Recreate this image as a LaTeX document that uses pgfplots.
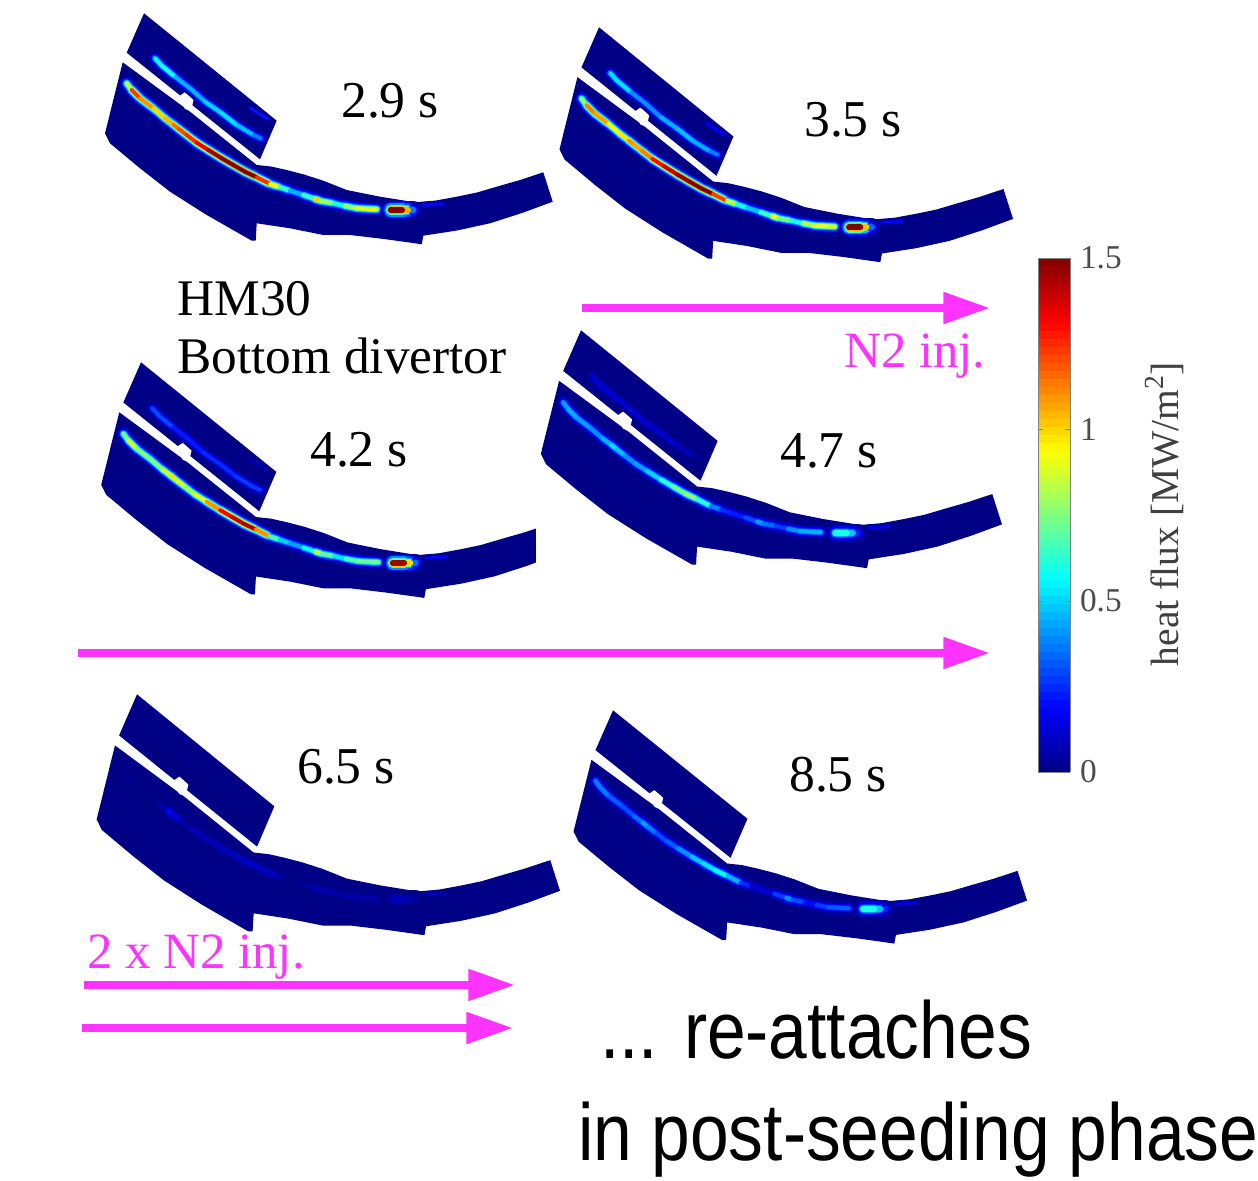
\documentclass[border=0pt]{standalone}
\usepackage{fontspec}
\setmainfont{Liberation Serif}
\newfontfamily\narrow[FakeStretch=0.86]{Liberation Sans}
\usepackage{pgfplots}
\usepackage{pgfplotstable}
\pgfplotsset{compat=1.18}
\usetikzlibrary{arrows.meta}
\definecolor{mg}{RGB}{255,51,255}
\definecolor{bodyblue}{rgb}{0,0,0.53}
\pgfplotstableread{
x y
0 0.3
132.7 107.7
116 146.3
-17.3 39.7
}\blocktab
\pgfplotstableread{
x y
-21.3 49.3
46 98.7
112.7 152
127 153.5
142.7 157
160 161.5
179.3 167.7
202.7 177
235 183.5
271 189.3
292 187.5
312.7 183.7
333 179.5
352.7 173.7
376 167
399.3 159.3
408.7 188.7
378 200
346 210.3
313 217.5
279.3 222.7
277.7 231.3
271 230.3
240 226
206 222
179.3 222
146 215.3
112.7 210.3
111.7 227.7
107.7 227.7
62.7 202
26 178.7
-4 155.3
-34 130.3
-39 120.3
}\bodytab
\pgfplotstableread{
x y
34 84
42 78.5
50 85
47 98
41 96
}\notchtab
\pgfplotstableread{
x y a b c d e f
-17.3 70.3 .45 .50 .50 .40 .02 .35
-12.3 77 1.25 1.05 .95 .45 .02 .40
-4 85.3 1.2 1.2 .80 .45 .02 .35
9.3 95.3 1.0 .95 .70 .40 .01 .30
21 105.3 1.0 .90 .80 .40 .01 .30
29.5 111.7 1.1 1.05 .95 .50 .10 .40
34.5 115.7 1.2 1.15 1.0 .55 .25 .45
42.7 122 1.2 1.0 .80 .40 .02 .30
52.7 129.7 1.3 1.25 .85 .40 .08 .30
64.3 137 1.4 1.35 .95 .45 .08 .35
77.7 145.3 1.5 1.45 1.25 .55 .08 .45
89.3 152 1.5 1.5 1.40 .70 .09 .50
101 158.7 1.5 1.5 1.40 .75 .10 .55
112.7 164.3 1.5 1.5 1.45 .80 .10 .60
126 171 1.0 .95 .75 .45 .10 .30
136 174.3 .9 .75 .60 .30 .08 .20
146 177.7 .4 .45 .40 .20 .01 .05
159.3 182 .5 .50 .45 .25 .02 .20
171 186 .8 .8 .7 .35 .06 .35
177 188 1.2 1.1 1.0 .50 .10 .45
189.3 190.3 .4 .40 .40 .20 .04 .15
201 193 .8 .80 .65 .35 .06 .25
212.7 195.3 .8 .85 .70 .45 .06 .30
232.7 196.3 1.0 .95 .75 .45 .06 .35
}\ridgetab
\pgfplotstableread{
x y a b c d e f
269 197 .15 .15 .15 .10 .02 .10
264 197 .60 .55 .55 .35 .05 .35
258 197 1.5 1.5 1.4 .60 .08 .60
247 197 1.5 1.5 1.5 .60 .08 .60
}\hottab
\pgfplotstableread{
x y a b c d e f
279 192 .15 .15 .15 .15 .05 .12
299 191 .25 .25 .25 .20 .10 .20
}\faintab
\pgfplotstableread{
x y a b c d e f
11 45.3 .4 .4 .25 .10 0 0
17.7 52.7 .75 .65 .35 .15 0 0
31 63.7 .45 .40 .25 .12 0 0
46 75.3 .45 .40 .20 .12 0 0
61 88.7 .45 .40 .25 .12 0 0
77.7 100.3 .55 .50 .25 .12 0 0
92.7 112 .50 .45 .25 .12 0 0
109.3 122 .45 .45 .30 .05 0 0
117 125.5 .30 .30 .25 0 0 0
}\uppertab
\pgfplotstableread{
x y a b c d e f
106 95 .20 .15 .05 0 0 0
124 106 .25 .22 .10 0 0 0
}\edgetab
% one painted stripe, in six layers that fade outward
\newcommand\stripe[7]{% table, X, Y, sx, sy, column, width factor
  \addplot[mesh,point meta=explicit,line cap=round,line width=#7*7.5pt] table[x expr=#2+#4*\thisrow{x},y expr=#3+#5*\thisrow{y},meta expr=.07*\thisrow{#6}]{#1};
  \addplot[mesh,point meta=explicit,line cap=round,line width=#7*6.4pt] table[x expr=#2+#4*\thisrow{x},y expr=#3+#5*\thisrow{y},meta expr=.15*\thisrow{#6}]{#1};
  \addplot[mesh,point meta=explicit,line cap=round,line width=#7*5.3pt] table[x expr=#2+#4*\thisrow{x},y expr=#3+#5*\thisrow{y},meta expr=.27*\thisrow{#6}]{#1};
  \addplot[mesh,point meta=explicit,line cap=round,line width=#7*4.2pt] table[x expr=#2+#4*\thisrow{x},y expr=#3+#5*\thisrow{y},meta expr=.45*\thisrow{#6}]{#1};
  \addplot[mesh,point meta=explicit,line cap=round,line width=#7*3.2pt] table[x expr=#2+#4*\thisrow{x},y expr=#3+#5*\thisrow{y},meta expr=.7*\thisrow{#6}]{#1};
  \addplot[mesh,point meta=explicit,line cap=round,line width=#7*2.2pt] table[x expr=#2+#4*\thisrow{x},y expr=#3+#5*\thisrow{y},meta expr=\thisrow{#6}]{#1};
}
\newcommand\panel[5]{%
  \addplot[fill=bodyblue,draw=none] table[x expr=#1+#3*\thisrow{x},y expr=#2+#4*\thisrow{y}]{\blocktab};
  \addplot[fill=bodyblue,draw=none] table[x expr=#1+#3*\thisrow{x},y expr=#2+#4*\thisrow{y}]{\bodytab};
  \addplot[fill=white,draw=none] table[x expr=#1+#3*\thisrow{x},y expr=#2+#4*\thisrow{y}]{\notchtab};
  \stripe{\uppertab}{#1}{#2}{#3}{#4}{#5}{1}
  \stripe{\edgetab}{#1}{#2}{#3}{#4}{#5}{.5}
  \stripe{\faintab}{#1}{#2}{#3}{#4}{#5}{.5}
  \stripe{\ridgetab}{#1}{#2}{#3}{#4}{#5}{1.1}
  \stripe{\hottab}{#1}{#2}{#3}{#4}{#5}{1.5}
  \addplot[mesh,point meta=explicit,line cap=round,line width=3.6pt] table[x expr=#1+#3*\thisrow{x},y expr=#2+#4*\thisrow{y},meta expr=\thisrow{#5}]{\hottab};
}
\begin{document}
\begin{tikzpicture}
\path[use as bounding box,clip] (0,0) rectangle (754.8pt,708.6pt);
\begin{axis}[
  at={(0,0)},anchor=south west,scale only axis,
  width=754.8pt,height=708.6pt,
  xmin=0,xmax=1258,ymin=0,ymax=1181,y dir=reverse,
  hide axis,clip=false,
  colormap/jet,point meta min=0,point meta max=1.5,
  colorbar,colorbar sampled,
  colorbar style={
    samples=65,
    at={(0.8251,0.7815)},anchor=north west,
    width=19.2pt,height=308.4pt,
    ytick={0,0.5,1,1.5},yticklabels={0,0.5,1,1.5},
    tick style={gray,major tick length=3pt},
    yticklabel style={font=\fontsize{20}{20}\selectfont,text=black!70,xshift=2.5pt},
    axis line style={gray,line width=.5pt},
    ylabel={heat flux [MW/m\textsuperscript{2}]},
    ylabel style={font=\fontsize{23.7}{23.7}\selectfont,text=black!75,at={(axis description cs:3.96,0.502)},anchor=center,rotate=0},
  },
]
\panel{144}{13}{1}{1}{a}
\panel{599}{27}{1.013}{1.017}{b}
\panel{141}{362}{1.02}{1.02}{c}
\addplot[fill=white,draw=none] coordinates {(536,510) (562,510) (562,600) (536,600)};
\panel{581}{330}{1.03}{1.03}{d}
\panel{137}{694}{1.035}{1.043}{e}
\panel{613}{710}{1.013}{1.01}{f}
% arrows
\addplot[mg,line width=4.8pt,-{Triangle[length=28pt,width=18pt]}] coordinates {(582,308) (990,308)};
\addplot[mg,line width=4.8pt,-{Triangle[length=28pt,width=18pt]}] coordinates {(78,653) (990,653)};
\addplot[mg,line width=4.8pt,-{Triangle[length=28pt,width=18pt]}] coordinates {(84,985) (515,985)};
\addplot[mg,line width=4.8pt,-{Triangle[length=28pt,width=18pt]}] coordinates {(82,1028) (513,1028)};
% texts
\def\big{\fontsize{31}{31}\selectfont}
\def\lab{\fontsize{30.8}{30.8}\selectfont}
\def\mgf{\fontsize{30.5}{30.5}\selectfont}
\node[font=\big] at (axis cs:390,101) {2.9 s};
\node[font=\big] at (axis cs:853,120) {3.5 s};
\node[font=\big] at (axis cs:359,450) {4.2 s};
\node[font=\big] at (axis cs:829,451) {4.7 s};
\node[font=\big] at (axis cs:346,767) {6.5 s};
\node[font=\big] at (axis cs:838,775) {8.5 s};
\node[font=\lab,anchor=base west,inner sep=0pt] at (axis cs:177,316) {HM30};
\node[font=\lab,anchor=base west,inner sep=0pt] at (axis cs:177,373) {Bottom divertor};
\node[font=\mgf,text=mg,anchor=base east,inner sep=0pt] at (axis cs:986,368) {N2 inj.};
\node[font=\mgf,text=mg,anchor=base west,inner sep=0pt] at (axis cs:87,968) {2 x N2 inj.};
\node[font=\narrow\fontsize{48.5}{48.5}\selectfont,anchor=base west,inner sep=0pt] at (axis cs:600,1058) {... re-attaches};
\node[font=\narrow\fontsize{48.5}{48.5}\selectfont,anchor=base west,inner sep=0pt] at (axis cs:578,1160) {in post-seeding phase};
\end{axis}
\end{tikzpicture}
\end{document}
